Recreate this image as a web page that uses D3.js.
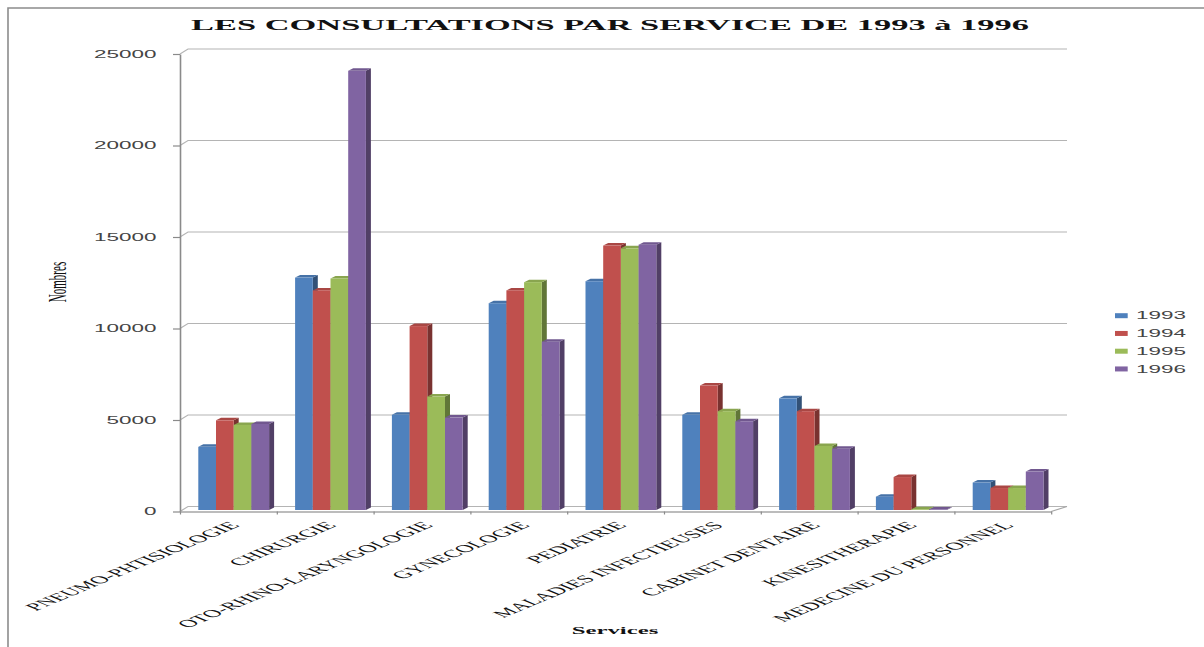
<!DOCTYPE html>
<html>
<head>
<meta charset="utf-8">
<script src="https://cdn.jsdelivr.net/npm/d3@7"></script>
<style>
  html, body { margin: 0; padding: 0; background: #fff; }
  svg { display: block; }
</style>
</head>
<body>
<script>
// Consultations per hospital service, 1993–1996
const categories = [
  "PNEUMO-PHTISIOLOGIE", "CHIRURGIE", "OTO-RHINO-LARYNGOLOGIE", "GYNECOLOGIE",
  "PEDIATRIE", "MALADIES INFECTIEUSES", "CABINET DENTAIRE", "KINESITHERAPIE",
  "MEDECINE DU PERSONNEL"
];
const years = ["1993", "1994", "1995", "1996"];
const v1993 = [3450, 12700, 5200, 11300, 12500, 5200, 6100, 730, 1500];
const v1994 = [4900, 12000, 10050, 12000, 14450, 6800, 5400, 1800, 1200];
const v1995 = [4650, 12650, 6200, 12450, 14300, 5400, 3500, 40, 1200];
const v1996 = [4700, 24000, 5050, 9200, 14500, 4850, 3350, 30, 2100];
const yTicks = [0, 5000, 10000, 15000, 20000, 25000];
const seriesColors = ["#4F81BD", "#C0504D", "#9BBB59", "#8064A2"];

const series = [v1993, v1994, v1995, v1996];
const W = 1204, H = 647;
const SX = 2.25;          // horizontal text stretch
const serif = "'Liberation Serif', 'Times New Roman', serif";
const sans = "'Liberation Sans', Arial, sans-serif";

const svg = d3.select("body").append("svg")
  .attr("width", W).attr("height", H);

svg.append("rect").attr("width", W).attr("height", H).attr("fill", "#fff");

// outer frame (top and left edges)
svg.append("path")
  .attr("d", `M8,${H} L8,8 L${W},8`)
  .attr("fill", "none").attr("stroke", "#8c8c8c").attr("stroke-width", 1.6);

// scales
const y = d3.scaleLinear().domain([0, 25000]).range([511.5, 54]);
const x = d3.scaleBand().domain(categories).range([180, 1051.2]);
const xs = d3.scaleBand().domain(years).range([18.3, 89.1]);
const xi = d3.scaleLinear().domain([0, categories.length]).range([180, 1051.2]);

const wallDx = 8, wallDy = -5;
const backLeft = 180 + wallDx, backRight = 1067;

// back wall gridlines with slanted connectors on the side wall
const grid = svg.append("g").attr("fill", "none").attr("stroke", "#b4b4b4").attr("stroke-width", 1.2);
yTicks.forEach(t => {
  const yf = y(t);
  grid.append("path")
    .attr("d", `M180,${yf} L${backLeft},${yf + wallDy} L${backRight},${yf + wallDy}`);
});

// floor right side
svg.append("path")
  .attr("d", `M${xi(categories.length)},${y(0)} L${backRight},${y(0) + wallDy}`)
  .attr("fill", "none").attr("stroke", "#a6a6a6").attr("stroke-width", 1.2);

// y axis
const yAxis = svg.append("g")
  .attr("transform", "translate(180,0)")
  .call(d3.axisLeft(y).tickValues(yTicks).tickSize(7).tickSizeOuter(0).tickPadding(3.4)
    .tickFormat(d3.format("d")));
yAxis.select(".domain").attr("stroke", "#8a8a8a").attr("stroke-width", 1.6);
yAxis.selectAll(".tick line").attr("stroke", "#8a8a8a").attr("stroke-width", 1.2);
yAxis.selectAll(".tick text")
  .attr("font-family", sans).attr("font-size", 10).attr("fill", "#444")
  .attr("transform", `scale(${SX},1)`);

// x axis (category boundaries)
const xAxis = svg.append("g")
  .attr("transform", `translate(0,${y(0)})`)
  .call(d3.axisBottom(xi).tickValues(d3.range(categories.length + 1)).tickSize(3)
    .tickSizeOuter(0).tickFormat(""));
xAxis.select(".domain").attr("stroke", "#a6a6a6").attr("stroke-width", 1.4);
xAxis.selectAll(".tick line").attr("stroke", "#8a8a8a").attr("stroke-width", 1.2);

// 3D bars
const bdx = 5, bdy = -2.5, barBase = y(0) - 1.5;
const shade = (c, k) => d3.color(c).darker(k).formatHex();
const bars = svg.append("g");
categories.forEach((cat, i) => {
  years.forEach((yr, j) => {
    const v = series[j][i];
    const x0 = x(cat) + xs(yr);
    const w = xs.bandwidth();
    const top = y(v) - 1.5;
    const col = seriesColors[j];
    const g = bars.append("g");
    g.append("path")
      .attr("d", `M${x0 + w},${top} L${x0 + w + bdx},${top + bdy} L${x0 + w + bdx},${barBase + bdy} L${x0 + w},${barBase} Z`)
      .attr("fill", shade(col, 1.3));
    g.append("path")
      .attr("d", `M${x0},${top} L${x0 + bdx},${top + bdy} L${x0 + w + bdx},${top + bdy} L${x0 + w},${top} Z`)
      .attr("fill", shade(col, 0.35));
    g.append("rect")
      .attr("x", x0).attr("y", top).attr("width", w).attr("height", Math.max(0, barBase - top))
      .attr("fill", col);
  });
});

// category labels
const labels = svg.append("g")
  .attr("font-family", serif).attr("font-size", 10.6).attr("fill", "#111");
categories.forEach(cat => {
  const cx = x(cat) + x.bandwidth() / 2 + 12;
  labels.append("text")
    .attr("transform", `translate(${cx},526) scale(2.4,1) rotate(-45)`)
    .attr("text-anchor", "end")
    .text(cat);
});

// title
svg.append("text")
  .attr("transform", `translate(610,30) scale(${SX},1)`)
  .attr("text-anchor", "middle")
  .attr("font-family", serif).attr("font-weight", "bold").attr("font-size", 15.3)
  .attr("fill", "#111")
  .text("LES CONSULTATIONS PAR SERVICE DE 1993 à 1996");

// axis titles
svg.append("text")
  .attr("transform", `translate(66,282) scale(${SX},1) rotate(-90)`)
  .attr("text-anchor", "middle")
  .attr("font-family", serif).attr("font-size", 11).attr("fill", "#111")
  .text("Nombres");

svg.append("text")
  .attr("transform", `translate(615,634) scale(${SX},1)`)
  .attr("text-anchor", "middle")
  .attr("font-family", serif).attr("font-weight", "bold").attr("font-size", 11)
  .attr("fill", "#111")
  .text("Services");

// legend
const legend = svg.append("g");
years.forEach((yr, j) => {
  const cy = 315.7 + j * 17.75;
  legend.append("rect")
    .attr("x", 1115).attr("y", cy - 2.5).attr("width", 12.7).attr("height", 5)
    .attr("fill", seriesColors[j]);
  legend.append("text")
    .attr("transform", `translate(1136,${cy + 3.6}) scale(${SX},1)`)
    .attr("font-family", sans).attr("font-size", 10).attr("fill", "#444")
    .text(yr);
});
</script>
</body>
</html>
